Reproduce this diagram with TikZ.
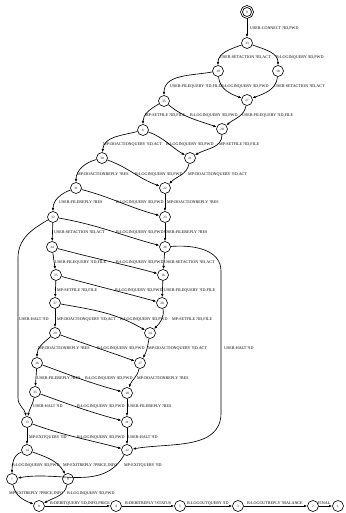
\documentclass[tikz,border=0pt]{standalone}
\usepackage{fontspec}
\setmainfont{Liberation Serif}
\usetikzlibrary{arrows.meta}
\tikzset{
  st/.style={circle, draw, line width=0.6pt, minimum size=11pt, inner sep=0pt, font=\fontsize{3.3}{4}\selectfont},
  ini/.style={st, double, double distance=0.9pt, line width=0.8pt, minimum size=11pt},
  e/.style={draw, line width=0.65pt, -{Latex[length=3.2pt,width=2.6pt]}},
  lbl/.style={anchor=west, inner sep=0pt, font=\fontsize{4.1}{5}\selectfont}
}
\begin{document}
\begin{tikzpicture}[x=1pt,y=1pt]
\useasboundingbox (0,0) rectangle (345,513);
% states
\node[ini] (n0) at (247,501) {0};
\node[st] (n33) at (247,470) {33};
\node[st] (n19) at (218,442) {19};
\node[st] (n18) at (278,442) {18};
\node[st] (n35) at (164,412) {35};
\node[st] (n27) at (247,413) {27};
\node[st] (n6) at (143,383) {6};
\node[st] (n20) at (222,384) {20};
\node[st] (n30) at (102,355) {30};
\node[st] (n21) at (190,355) {21};
\node[st] (n31) at (76,325) {31};
\node[st] (n22) at (165,325) {22};
\node[st] (n32) at (53,296) {32};
\node[st] (n23) at (165,296) {23};
\node[st] (n34) at (52,266) {34};
\node[st] (n26) at (165,266) {26};
\node[st] (n25) at (56,238) {25};
\node[st] (n16) at (163,238) {16};
\node[st] (n37) at (55,210) {37};
\node[st] (n28) at (162,210) {28};
\node[st] (n29) at (55,180) {29};
\node[st] (n24) at (150,180) {24};
\node[st] (n36) at (37,150) {36};
\node[st] (n17) at (140,150) {17};
\node[st] (n15) at (35,121) {15};
\node[st] (n10) at (127,120) {10};
\node[st] (n13) at (27,91) {13};
\node[st] (n11) at (127,91) {11};
\node[st] (n14) at (27,63) {14};
\node[st] (n12) at (127,63) {12};
\node[st] (n7) at (12,34) {7};
\node[st] (n9) at (68,34) {9};
\node[st] (n8) at (39,7) {8};
\node[st] (n4) at (116,7) {4};
\node[st] (n5) at (180,7) {5};
\node[st] (n3) at (238,7) {3};
\node[st] (n2) at (313,7) {2};
\node[st] (n1) at (338,7) {1};
% transitions
\draw[e] (n0) -- (n33);
\draw[e] (n33) to[out=200,in=90] (n19);
\draw[e] (n33) to[out=-20,in=90] (n18);
\draw[e] (n19) to[out=190,in=90] (n35);
\draw[e] (n19) to[out=-85,in=160] (n27);
\draw[e] (n18) to[out=-95,in=20] (n27);
\draw[e] (n35) to[out=210,in=90] (n6);
\draw[e] (n35) to[out=-40,in=160] (n20);
\draw[e] (n27) to[out=-100,in=40] (n20);
\draw[e] (n6) to[out=195,in=85] (n30);
\draw[e] (n6) to[out=-20,in=150] (n21);
\draw[e] (n20) to[out=-90,in=30] (n21);
\draw[e] (n30) to[out=195,in=90] (n31);
\draw[e] (n30) to[out=-20,in=160] (n22);
\draw[e] (n21) to[out=-100,in=45] (n22);
\draw[e] (n31) to[out=200,in=90] (n32);
\draw[e] (n31) to[out=-15,in=165] (n23);
\draw[e] (n22) -- (n23);
\draw[e] (n32) -- (n34);
\draw[e] (n32) to[out=-10,in=165] (n26);
\draw[e] (n23) -- (n26);
\draw[e] (n32) to[out=210,in=90] (18,255) -- (18,115) to[out=-90,in=100] (n13);
\draw[e] (n26) to[out=5,in=90] (221,242) -- (221,100) to[out=-90,in=10] (n12);
\draw[e] (n34) -- (n25);
\draw[e] (n34) to[out=-15,in=165] (n16);
\draw[e] (n26) -- (n16);
\draw[e] (n25) -- (n37);
\draw[e] (n25) to[out=-15,in=165] (n28);
\draw[e] (n16) -- (n28);
\draw[e] (n37) -- (n29);
\draw[e] (n37) to[out=-10,in=150] (n24);
\draw[e] (n28) to[out=-80,in=45] (n24);
\draw[e] (n29) to[out=220,in=90] (n36);
\draw[e] (n29) to[out=-20,in=160] (n17);
\draw[e] (n24) to[out=-100,in=60] (n17);
\draw[e] (n36) -- (n15);
\draw[e] (n36) to[out=-20,in=165] (n10);
\draw[e] (n17) to[out=-100,in=70] (n10);
\draw[e] (n15) to[out=-100,in=80] (n13);
\draw[e] (n15) to[out=-20,in=165] (n11);
\draw[e] (n10) -- (n11);
\draw[e] (n13) -- (n14);
\draw[e] (n13) to[out=-20,in=165] (n12);
\draw[e] (n11) -- (n12);
\draw[e] (n14) to[out=200,in=90] (n7);
\draw[e] (n14) to[out=-20,in=120] (n9);
\draw[e] (n12) to[out=-120,in=10] (n7);
\draw[e] (n7) to[out=-80,in=160] (n8);
\draw[e] (n9) to[out=-100,in=30] (n8);
\draw[e] (n8) -- (n4);
\draw[e] (n4) -- (n5);
\draw[e] (n5) -- (n3);
\draw[e] (n3) -- (n2);
\draw[e] (n2) -- (n1);
% labels
\node[lbl] (t1) at (250,485) {USER:CONNECT ?ID,PWD};
\node[lbl] (t2) at (220,456) {USER:SETACTION ?ID,ACT};
\node[lbl] (t3) at (276,456) {B:LOGINQUERY !ID,PWD};
\node[lbl] (t4) at (170,427) {USER:FILEQUERY ?ID,FILE};
\node[lbl] (t5) at (221,427) {B:LOGINQUERY !ID,PWD};
\node[lbl] (t6) at (274,427) {USER:SETACTION ?ID,ACT};
\node[lbl] (t7) at (145,398) {MP:SETFILE ?ID,FILE};
\node[lbl] (t8) at (190,398) {B:LOGINQUERY !ID,PWD};
\node[lbl] (t9) at (242,398) {USER:FILEQUERY ?ID,FILE};
\node[lbl] (t10) at (103,369) {MP:DOACTIONQUERY ?ID,ACT};
\node[lbl] (t11) at (166,369) {B:LOGINQUERY !ID,PWD};
\node[lbl] (t12) at (219,369) {MP:SETFILE ?ID,FILE};
\node[lbl] (t13) at (77,339) {MP:DOACTIONREPLY ?RES};
\node[lbl] (t14) at (135,339) {B:LOGINQUERY !ID,PWD};
\node[lbl] (t15) at (188,339) {MP:DOACTIONQUERY ?ID,ACT};
\node[lbl] (t16) at (59,311) {USER:FILEREPLY ?RES};
\node[lbl] (t17) at (116,311) {B:LOGINQUERY !ID,PWD};
\node[lbl] (t18) at (167,311) {MP:DOACTIONREPLY ?RES};
\node[lbl] (t19) at (54,281) {USER:SETACTION ?ID,ACT};
\node[lbl] (t20) at (116,281) {B:LOGINQUERY !ID,PWD};
\node[lbl] (t21) at (164,281) {USER:FILEREPLY ?RES};
\node[lbl] (t22) at (55,251) {USER:FILEQUERY ?ID,FILE};
\node[lbl] (t23) at (116,251) {B:LOGINQUERY !ID,PWD};
\node[lbl] (t24) at (164,251) {USER:SETACTION ?ID,ACT};
\node[lbl] (t25) at (57,223) {MP:SETFILE ?ID,FILE};
\node[lbl] (t26) at (115,223) {B:LOGINQUERY !ID,PWD};
\node[lbl] (t27) at (164,223) {USER:FILEQUERY ?ID,FILE};
\node[lbl] (t28) at (19,194) {USER:HALT ?ID};
\node[lbl] (t29) at (57,194) {MP:DOACTIONQUERY ?ID,ACT};
\node[lbl] (t30) at (120,194) {B:LOGINQUERY !ID,PWD};
\node[lbl] (t31) at (172,194) {MP:SETFILE ?ID,FILE};
\node[lbl] (t32) at (38,165) {MP:DOACTIONREPLY ?RES};
\node[lbl] (t33) at (97,165) {B:LOGINQUERY !ID,PWD};
\node[lbl] (t34) at (148,165) {MP:DOACTIONQUERY ?ID,ACT};
\node[lbl] (t35) at (224,165) {USER:HALT ?ID};
\node[lbl] (t36) at (37,135) {USER:FILEREPLY ?RES};
\node[lbl] (t37) at (85,135) {B:LOGINQUERY !ID,PWD};
\node[lbl] (t38) at (137,135) {MP:DOACTIONREPLY ?RES};
\node[lbl] (t39) at (33,107) {USER:HALT ?ID};
\node[lbl] (t40) at (77,107) {B:LOGINQUERY !ID,PWD};
\node[lbl] (t41) at (128,107) {USER:FILEREPLY ?RES};
\node[lbl] (t42) at (29,76) {MP:EXITQUERY ?ID};
\node[lbl] (t43) at (77,76) {B:LOGINQUERY !ID,PWD};
\node[lbl] (t44) at (128,76) {USER:HALT ?ID};
\node[lbl] (t45) at (12,48) {B:LOGINQUERY !ID,PWD};
\node[lbl] (t46) at (63,48) {MP:EXITREPLY ?PRICE,INFO};
\node[lbl] (t47) at (124,48) {MP:EXITQUERY ?ID};
\node[lbl] (t48) at (9,20) {MP:EXITREPLY ?PRICE,INFO};
\node[lbl] (t49) at (67,20) {B:LOGINQUERY !ID,PWD};
\node[lbl] (t50) at (50,10) {B:DEBITQUERY !ID,INFO,PRICE};
\node[lbl] (t51) at (125,10) {B:DEBITREPLY ?STATUS};
\node[lbl] (t52) at (187,10) {B:LOGOUTQUERY !ID};
\node[lbl] (t53) at (247,10) {B:LOGOUTREPLY ?BALANCE};
\node[lbl] (t54) at (318,10) {FINAL};
\end{tikzpicture}
\end{document}
